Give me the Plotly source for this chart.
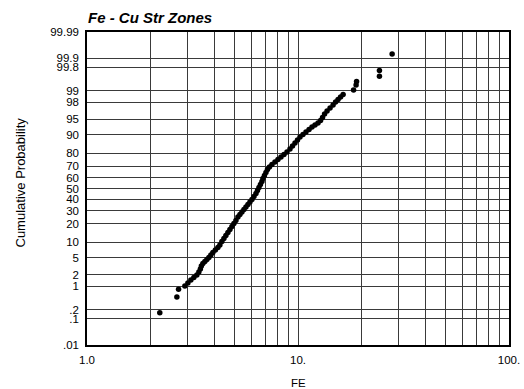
from statistics import NormalDist
import plotly.graph_objects as go

# FE values and cumulative probability (%)
fe_values = [
    2.213, 2.666, 2.716,
    2.909, 3.006, 3.106, 3.209, 3.316, 3.389, 3.446, 3.483, 3.541, 3.619,
    3.700, 3.782, 3.865, 3.950, 4.059, 4.172, 4.264, 4.358, 4.455, 4.553,
    4.654, 4.757, 4.862, 4.969, 5.079, 5.191, 5.306, 5.424, 5.543, 5.666,
    5.791, 5.919, 6.050, 6.184, 6.321, 6.425, 6.530, 6.637, 6.747, 6.821,
    6.934, 7.048, 7.164, 7.323, 7.526, 7.777, 8.036, 8.304, 8.581, 8.867,
    9.162, 9.417, 9.678, 9.946, 10.22, 10.56, 10.91, 11.28, 11.65, 12.04,
    12.44, 12.79, 13.07, 13.36, 13.73, 14.19, 14.66, 15.07, 15.48, 15.91,
    16.36,
    18.34, 18.85, 18.95, 24.32, 24.32, 27.93,
]
cum_prob = [
    0.158, 0.497, 0.83,
    1.025, 1.236, 1.484, 1.72, 1.99, 2.36, 2.79, 3.27, 3.74, 4.14,
    4.58, 5.05, 5.70, 6.41, 7.19, 8.05, 8.97, 10.39, 11.74, 13.20,
    14.79, 16.50, 18.33, 20.28, 22.35, 24.91, 26.83, 28.83, 30.89, 33.01,
    35.19, 37.42, 39.69, 42.46, 45.27, 48.10, 50.95, 53.79, 56.61, 59.39,
    62.13, 64.81, 67.42, 69.53, 71.58, 73.56, 75.46, 77.29, 79.05, 80.71,
    82.61, 84.38, 86.02, 87.55, 88.95, 90.03, 91.03, 91.95, 92.81, 93.44,
    94.02, 94.70, 95.42, 96.17, 96.72, 97.21, 97.64, 98.01, 98.28, 98.52,
    98.73,
    99.04, 99.30, 99.45, 99.62, 99.75, 99.93,
]

y_tick_probs = [0.01, 0.1, 0.2, 1, 2, 5, 10, 20, 30, 40, 50, 60, 70, 80,
                90, 95, 98, 99, 99.8, 99.9, 99.99]
y_tick_labels = [".01", ".1", ".2", "1", "2", "5", "10", "20", "30", "40",
                 "50", "60", "70", "80", "90", "95", "98", "99", "99.8",
                 "99.9", "99.99"]
x_grid_vals = [1, 2, 3, 4, 5, 6, 7, 8, 9, 10, 20, 30, 40, 50, 60, 70, 80,
               90, 100]
x_labels = {1: "1.0", 10: "10.", 100: "100."}

nd = NormalDist()
def probit(p):
    return nd.inv_cdf(p / 100.0)

y_z = [probit(p) for p in cum_prob]
tick_z = [probit(p) for p in y_tick_probs]
zmin, zmax = probit(0.01), probit(99.99)

FONT = "Liberation Sans, Arial, sans-serif"
GRID = "#3a3a3a"

fig = go.Figure()
fig.add_trace(go.Scatter(
    x=fe_values, y=y_z, mode="markers",
    marker=dict(color="black", size=5.5, line=dict(width=0)),
    hoverinfo="skip", showlegend=False,
))

fig.update_layout(
    width=524, height=389,
    autosize=False,
    margin=dict(l=87, r=15, t=32, b=44, autoexpand=False),
    paper_bgcolor="white", plot_bgcolor="white",
    font=dict(family=FONT, color="black", size=11.5),
    title=dict(text="<b><i>Fe - Cu Str Zones</i></b>",
               font=dict(family=FONT, size=15, color="black"),
               x=1 / 422, xanchor="left", xref="paper",
               y=1 - 17.5 / 389, yanchor="middle"),
    xaxis=dict(
        type="log", range=[0, 2], automargin=False,
        tickvals=x_grid_vals,
        ticktext=[x_labels.get(v, "") for v in x_grid_vals],
        showgrid=True, gridcolor=GRID, gridwidth=1,
        showline=True, linecolor="black", linewidth=1.5, mirror=True,
        ticks="", zeroline=False, ticklabelstandoff=3,
        tickfont=dict(size=11.5),
    ),
    yaxis=dict(
        range=[zmin, zmax], automargin=False,
        tickvals=tick_z, ticktext=y_tick_labels,
        showgrid=True, gridcolor=GRID, gridwidth=1,
        showline=True, linecolor="black", linewidth=1.5, mirror=True,
        ticks="", zeroline=False, ticklabelstandoff=4,
        tickfont=dict(size=11.5),
    ),
    annotations=[
        dict(text="FE", xref="paper", yref="paper", x=0.5, y=-38 / 313,
             xanchor="center", yanchor="middle", showarrow=False,
             font=dict(size=11.5)),
        dict(text="Cumulative Probability", xref="paper", yref="paper",
             x=-67 / 422, y=(345 - 182.5) / 313, textangle=-90,
             xanchor="center", yanchor="middle", showarrow=False,
             font=dict(size=13)),
    ],
)

fig.write_html("out.html")
